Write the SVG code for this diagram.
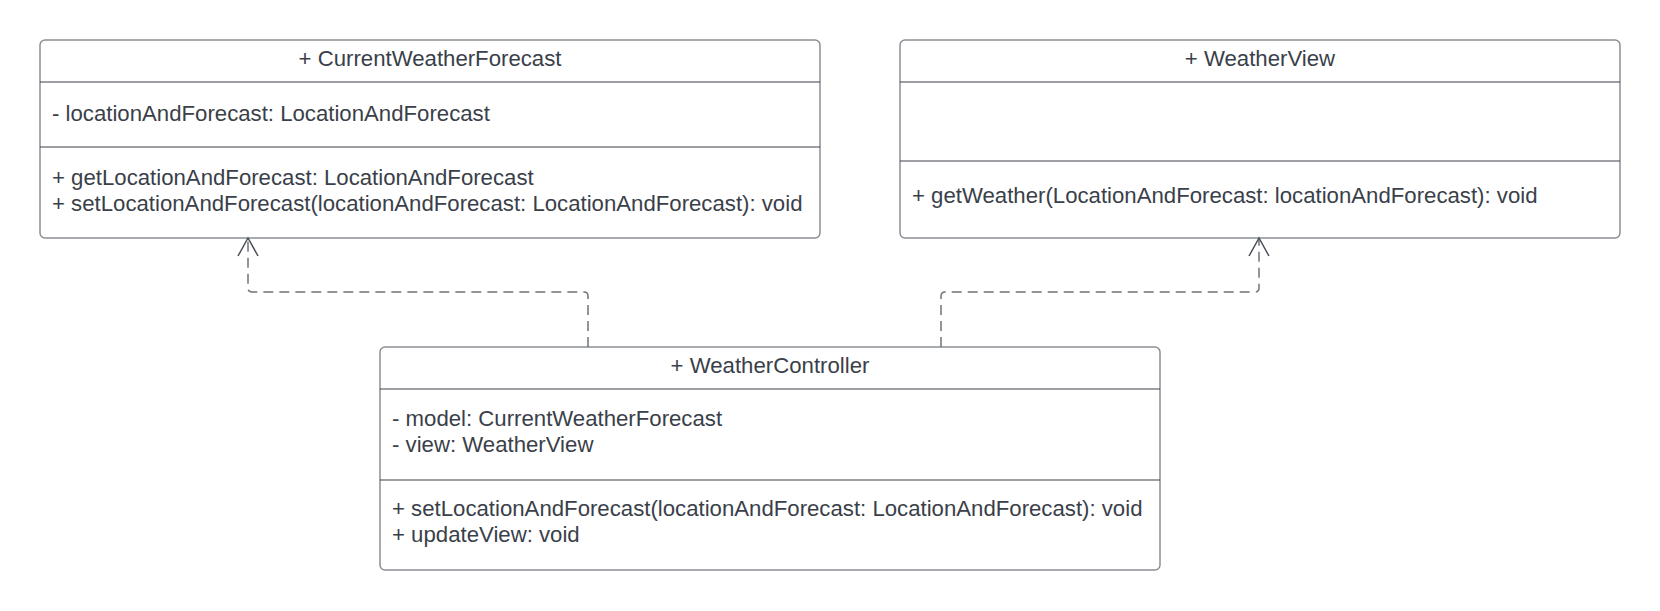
<svg xmlns="http://www.w3.org/2000/svg" width="1660" height="611" viewBox="0 0 1660 611">
<style>
.box{fill:#ffffff;stroke:#8b8e94;stroke-width:1.5}
.div{stroke:#3a3f48;stroke-width:1}
.t{font-family:"Liberation Sans",Arial,sans-serif;font-size:22.2px;fill:#3a3f4a}
.c{text-anchor:middle}
.conn{fill:none;stroke:#6f737a;stroke-width:1.5;stroke-dasharray:10 6}
.head{fill:none;stroke:#4a4f57;stroke-width:1.5}
</style>
<rect width="1660" height="611" fill="#ffffff"/>
<g id="CurrentWeatherForecast">
<rect class="box" x="40" y="40" width="780" height="198" rx="5"/>
<line class="div" x1="40" y1="82" x2="820" y2="82"/>
<line class="div" x1="40" y1="147" x2="820" y2="147"/>
<text class="t c" x="430" y="66">+ CurrentWeatherForecast</text>
<text class="t" x="52" y="121">- locationAndForecast: LocationAndForecast</text>
<text class="t" x="52" y="185">+ getLocationAndForecast: LocationAndForecast</text>
<text class="t" x="52" y="211">+ setLocationAndForecast(locationAndForecast: LocationAndForecast): void</text>
</g>
<g id="WeatherView">
<rect class="box" x="900" y="40" width="720" height="198" rx="5"/>
<line class="div" x1="900" y1="82" x2="1620" y2="82"/>
<line class="div" x1="900" y1="161" x2="1620" y2="161"/>
<text class="t c" x="1260" y="66">+ WeatherView</text>
<text class="t" x="912" y="203">+ getWeather(LocationAndForecast: locationAndForecast): void</text>
</g>
<g id="WeatherController">
<rect class="box" x="380" y="347" width="780" height="223" rx="5"/>
<line class="div" x1="380" y1="389" x2="1160" y2="389"/>
<line class="div" x1="380" y1="480" x2="1160" y2="480"/>
<text class="t c" x="770" y="373">+ WeatherController</text>
<text class="t" x="392" y="426">- model: CurrentWeatherForecast</text>
<text class="t" x="392" y="452">- view: WeatherView</text>
<text class="t" x="392" y="516">+ setLocationAndForecast(locationAndForecast: LocationAndForecast): void</text>
<text class="t" x="392" y="542">+ updateView: void</text>
</g>
<g id="connectors">
<path class="conn" d="M588 347 V296 Q588 292 584 292 H252 Q248 292 248 288 V240"/>
<path class="head" d="M238 256 L248 238 L258 256"/>
<path class="conn" d="M941 347 V296 Q941 292 945 292 H1255 Q1259 292 1259 288 V240"/>
<path class="head" d="M1249 256 L1259 238 L1269 256"/>
</g>
</svg>
